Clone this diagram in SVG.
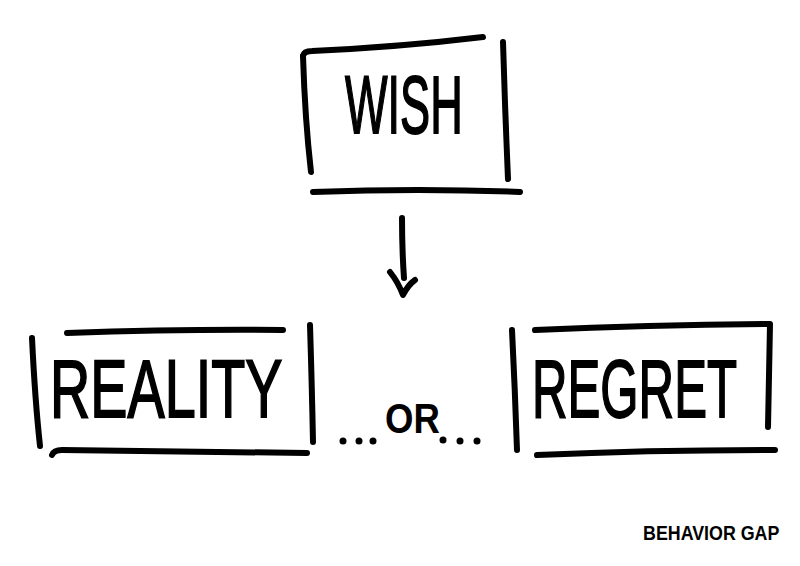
<svg xmlns="http://www.w3.org/2000/svg" width="800" height="566" viewBox="0 0 800 566">
<style>
.ink{fill:none;stroke:#000;stroke-width:6;stroke-linecap:round;stroke-linejoin:round}
.big{font-family:"Liberation Sans","DejaVu Sans",sans-serif;font-size:82px;fill:#000;stroke:#000;stroke-width:1.8}
.mid{font-family:"Liberation Sans","DejaVu Sans",sans-serif;font-size:42px;font-weight:bold;fill:#000}
.small{font-family:"Liberation Sans","DejaVu Sans",sans-serif;font-size:21px;font-weight:bold;fill:#000}
</style>
<rect width="800" height="566" fill="#fff"/>
<g id="node-wish">
<path class="ink" d="M303,56 Q304,51 312,51 Q400,47 483,37"/>
<path class="ink" d="M303,56 Q305,120 311,172"/>
<path class="ink" d="M503,42 Q505,110 508,179"/>
<path class="ink" d="M313,192 Q420,188 520,192"/>
<text class="big" transform="translate(345,133) scale(0.55,1)" x="0" y="0">WISH</text>
</g>
<g id="node-reality">
<path class="ink" d="M32,338 Q35,400 40,446"/>
<path class="ink" d="M67,333 Q180,329 283,330"/>
<path class="ink" d="M310,325 Q312,390 313,442"/>
<path class="ink" d="M52,455 Q54,450 62,450 Q180,451 307,453"/>
<text class="big" transform="translate(50,417) scale(0.68,1)" x="0" y="0">REALITY</text>
</g>
<g id="node-or">
<circle cx="343" cy="441" r="3.5"/>
<circle cx="359" cy="441" r="3.5"/>
<circle cx="373" cy="441" r="3.5"/>
<text class="mid" transform="translate(385,433) scale(0.87,1)" x="0" y="0">OR</text>
<circle cx="443" cy="440" r="3.5"/>
<circle cx="460" cy="441" r="3.5"/>
<circle cx="477" cy="441" r="3.5"/>
</g>
<g id="node-regret">
<path class="ink" d="M512,330 Q515,390 517,450"/>
<path class="ink" d="M535,330 Q650,325 770,324 Q769,380 768,427"/>
<path class="ink" d="M537,455 Q650,450 775,450"/>
<text class="big" transform="translate(532,417) scale(0.6,1)" x="0" y="0">REGRET</text>
</g>
<g id="connectors">
<path class="ink" d="M402,218 Q402,250 404,278"/>
<path class="ink" d="M390,272 Q398,282 403,295 Q408,285 415,280"/>
</g>
<g id="credit">
<text class="small" transform="translate(643,540) scale(0.85,1)" x="0" y="0">BEHAVIOR GAP</text>
</g>
</svg>
